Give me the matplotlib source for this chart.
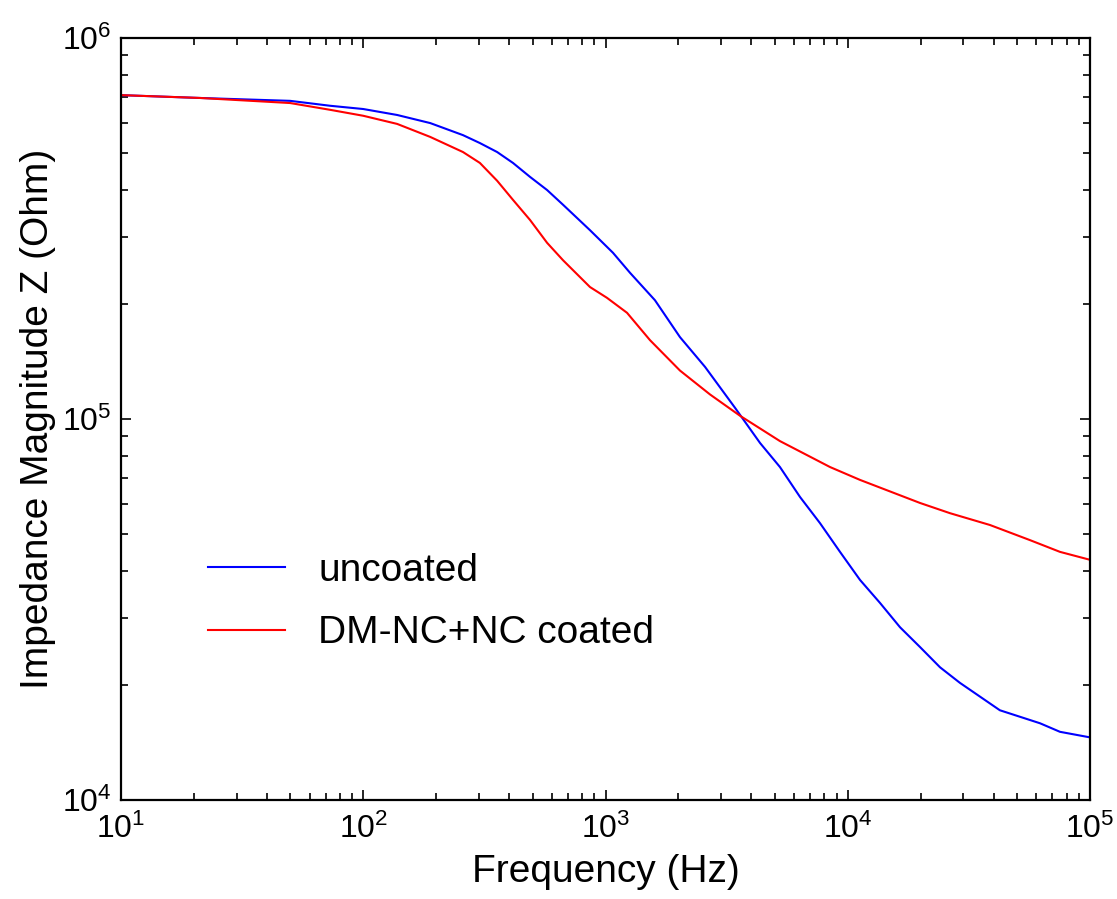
import math
import matplotlib
matplotlib.use("Agg")
import matplotlib.pyplot as plt
from matplotlib.ticker import LogLocator, FuncFormatter, NullFormatter

plt.rcParams['font.family'] = ['Liberation Sans', 'DejaVu Sans']
plt.rcParams['mathtext.fontset'] = 'custom'
plt.rcParams['mathtext.rm'] = 'Liberation Sans'
plt.rcParams['mathtext.it'] = 'Liberation Sans:italic'
plt.rcParams['mathtext.bf'] = 'Liberation Sans:bold'

# Data
freq_uncoated = [10, 21.2, 49.9, 72.9, 100, 138, 189, 258, 303, 357, 415, 488, 574,
                 668, 863, 1074, 1262, 1600, 2030, 2576, 3425, 4345, 5250, 6355,
                 7680, 9290, 11240, 13590, 16440, 19880, 24040, 29040, 42460,
                 62180, 75160, 100000]
z_uncoated = [7.08e5, 6.96e5, 6.84e5, 6.64e5, 6.51e5, 6.28e5, 5.98e5, 5.56e5, 5.30e5,
              5.02e5, 4.70e5, 4.32e5, 3.99e5, 3.65e5, 3.13e5, 2.73e5, 2.42e5, 2.05e5,
              1.64e5, 1.37e5, 1.07e5, 8.65e4, 7.48e4, 6.24e4, 5.33e4, 4.48e4, 3.78e4,
              3.29e4, 2.84e4, 2.52e4, 2.23e4, 2.03e4, 1.72e4, 1.59e4, 1.51e4, 1.46e4]

freq_coated = [10, 21.2, 49.9, 72.9, 100, 138, 189, 258, 303, 357, 415, 488, 574, 668,
               863, 1014, 1227, 1527, 2030, 2700, 3590, 5250, 8450, 11240, 19880,
               26420, 38630, 56490, 75160, 100000]
z_coated = [7.08e5, 6.96e5, 6.75e5, 6.48e5, 6.25e5, 5.95e5, 5.50e5, 5.02e5, 4.70e5,
            4.22e5, 3.76e5, 3.33e5, 2.90e5, 2.61e5, 2.22e5, 2.08e5, 1.90e5, 1.61e5,
            1.34e5, 1.16e5, 1.02e5, 8.75e4, 7.48e4, 6.92e4, 6.02e4, 5.66e4, 5.27e4,
            4.81e4, 4.48e4, 4.27e4]

series_labels = ["uncoated", "DM-NC+NC coated"]
series_colors = ["#0000ff", "#ff0000"]

x_label = "Frequency (Hz)"
y_label = "Impedance Magnitude Z (Ohm)"

W, H = 1117, 899
fig = plt.figure(figsize=(W / 100, H / 100), dpi=100)
ax = fig.add_axes([121 / W, 1 - 800 / H, (1090 - 121) / W, (800 - 38) / H])

ax.plot(freq_uncoated, z_uncoated, color=series_colors[0], lw=1.5, label=series_labels[0])
ax.plot(freq_coated, z_coated, color=series_colors[1], lw=1.5, label=series_labels[1])

ax.set_xscale('log')
ax.set_yscale('log')
ax.set_xlim(10, 1e5)
ax.set_ylim(1e4, 1e6)

fmt = FuncFormatter(lambda v, p: r'$\mathregular{10^{%d}}$' % round(math.log10(v)))
ax.xaxis.set_major_locator(LogLocator(base=10, numticks=10))
ax.yaxis.set_major_locator(LogLocator(base=10, numticks=10))
ax.xaxis.set_minor_locator(LogLocator(base=10, subs=range(2, 10), numticks=20))
ax.yaxis.set_minor_locator(LogLocator(base=10, subs=range(2, 10), numticks=20))
ax.xaxis.set_major_formatter(fmt)
ax.yaxis.set_major_formatter(fmt)
ax.xaxis.set_minor_formatter(NullFormatter())
ax.yaxis.set_minor_formatter(NullFormatter())

ax.tick_params(which='both', direction='in', top=True, right=True, width=1.2, colors='black')
ax.tick_params(which='major', length=7, labelsize=23)
ax.tick_params(which='minor', length=5)
ax.tick_params(axis='x', which='major', pad=10)
ax.tick_params(axis='y', which='major', pad=7)

for s in ax.spines.values():
    s.set_linewidth(1.6)
    s.set_color('black')

ax.set_xlabel(x_label, fontsize=28, labelpad=6)
ax.set_ylabel(y_label, fontsize=28, labelpad=4)

leg = ax.legend(loc='center left', bbox_to_anchor=((208 - 121) / 969, (800 - 602) / 762),
                frameon=False, fontsize=28, handlelength=1.98, handletextpad=0.85,
                labelspacing=0.68, borderpad=0, borderaxespad=0)
for line in leg.get_lines():
    line.set_linewidth(1.5)

fig.savefig("out.png", dpi=100, facecolor='white')
